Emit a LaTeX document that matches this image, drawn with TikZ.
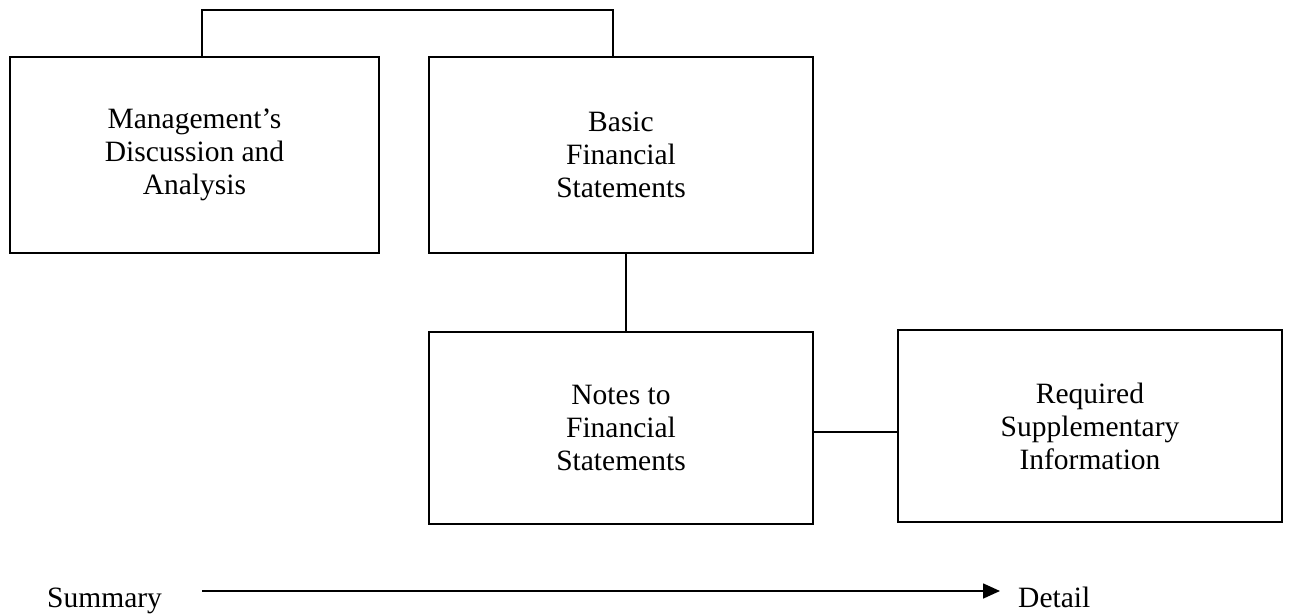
\documentclass[tikz,border=0pt]{standalone}
\usepackage{fontspec}
\setmainfont{Liberation Serif}
\usetikzlibrary{arrows.meta,calc}
\begin{document}
\begin{tikzpicture}[x=1pt,y=-1pt,
  box/.style={draw=black,line width=1.6pt,inner sep=0pt,align=center,
    font=\fontsize{29.5pt}{33pt}\selectfont},
  lbl/.style={inner sep=0pt,font=\fontsize{29.5pt}{33pt}\selectfont},
  link/.style={draw=black,line width=1.6pt}]
\useasboundingbox (0,0) rectangle (1289,613);
\node[box,minimum width=369pt,minimum height=196pt] (mda) at (194.5,155) {Management’s\\Discussion and\\Analysis};
\node[box,minimum width=384pt,minimum height=196pt] (bfs) at (621,155) {Basic\\Financial\\Statements};
\node[box,minimum width=384pt,minimum height=192pt] (nfs) at (621,428) {Notes to\\Financial\\Statements};
\node[box,minimum width=384pt,minimum height=192pt] (rsi) at (1090,426) {Required\\Supplementary\\Information};
\coordinate (top) at (0,10);
\draw[link] ([xshift=7.5pt]mda.north) |- ([xshift=-8pt]bfs.north |- top) -- ([xshift=-8pt]bfs.north);
\draw[link] ([xshift=5pt]bfs.south) -- ([xshift=5pt]nfs.north);
\draw[link] ([yshift=-4pt]nfs.east) -- ([yshift=-4pt]nfs.east -| rsi.west);
\node[lbl,anchor=base west] (sum) at (47,607) {Summary};
\node[lbl,anchor=base west] (det) at (1018,607) {Detail};
\coordinate (a1) at (202,591);
\coordinate (a2) at (1000,591);
\draw[link,-{Triangle[length=17pt,width=15pt]}] (a1) -- (a2);
\end{tikzpicture}
\end{document}
